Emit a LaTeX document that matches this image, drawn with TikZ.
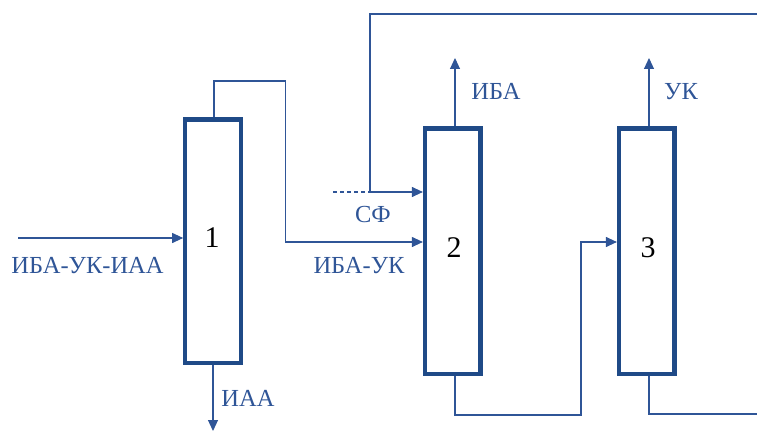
\documentclass[tikz,border=0pt]{standalone}
\usepackage{fontspec}
\setmainfont{Liberation Serif}
\newfontfamily\labfont[Script=Cyrillic]{Liberation Serif}
\usetikzlibrary{arrows.meta,calc}
\definecolor{boxblue}{HTML}{1F4A87}
\definecolor{lineblue}{HTML}{2F5597}
\begin{document}
\begin{tikzpicture}[x=1pt,y=-1pt,
  col/.style={draw=boxblue,line width=4.2pt,minimum width=55.5pt,inner sep=0pt},
  pipe/.style={draw=lineblue,line width=1.1pt},
  flow/.style={pipe,-{Triangle[length=11pt,width=10pt]}},
  lab/.style={text=lineblue,font=\labfont\fontsize{24.5}{26}\selectfont,inner sep=0pt},
  num/.style={text=black,font=\fontsize{30}{32}\selectfont,inner sep=0pt}]
\useasboundingbox (0,0) rectangle (757,433);
% columns
\node[col,minimum height=243.5pt] (c1) at (213,241.25) {};
\node[col,minimum height=245.5pt] (c2) at (452.75,251.25) {};
\node[col,minimum height=245.5pt] (c3) at (646.75,251.25) {};
\node[num] (n1) at (212,238) {1};
\node[num] (n2) at (454,248) {2};
\node[num] (n3) at (648,248) {3};
% feed to column 1
\coordinate (fin) at (18,238);
\draw[flow] (fin) -- (fin -| c1.west);
\node[lab] (lfeed) at (87.5,266) {ИБА-УК-ИАА};
% column 1 bottom
\coordinate (b1) at (213,431);
\draw[flow] (c1.south -| b1) -- (b1);
\node[lab] (liaa) at (248,398) {ИАА};
% column 1 top to column 2
\coordinate (t1a) at (214,81);
\coordinate (t1b) at (285.5,81);
\coordinate (t1c) at (285.5,242);
\draw[flow] (c1.north -| t1a) -- (t1a) -- (t1b) -- (t1c) -- (t1c -| c2.west);
\node[lab] (libauk) at (359,266) {ИБА-УК};
% SF recycle
\coordinate (sfd) at (333,192);
\coordinate (sfj) at (370,192);
\coordinate (sft) at (370,14);
\coordinate (sfr) at (757,14);
\draw[pipe,dash pattern=on 4pt off 3pt] (sfd) -- (sfj);
\draw[flow] (sfr) -- (sft) -- (sfj) -- (sfj -| c2.west);
\node[lab] (lsf) at (373,215) {СФ};
% column 2 top
\coordinate (t2) at (455,58);
\draw[flow] (c2.north -| t2) -- (t2);
\node[lab] (liba) at (496,91) {ИБА};
% column 3 top
\coordinate (t3) at (649,58);
\draw[flow] (c3.north -| t3) -- (t3);
\node[lab] (luk) at (681,92) {УК};
% column 2 bottom to column 3
\coordinate (b2a) at (455,415);
\coordinate (b2b) at (581,415);
\coordinate (b2c) at (581,242);
\draw[flow] (c2.south -| b2a) -- (b2a) -- (b2b) -- (b2c) -- (b2c -| c3.west);
% column 3 bottom
\coordinate (b3a) at (649,414);
\coordinate (b3b) at (757,414);
\draw[pipe] (c3.south -| b3a) -- (b3a) -- (b3b);
\end{tikzpicture}
\end{document}
